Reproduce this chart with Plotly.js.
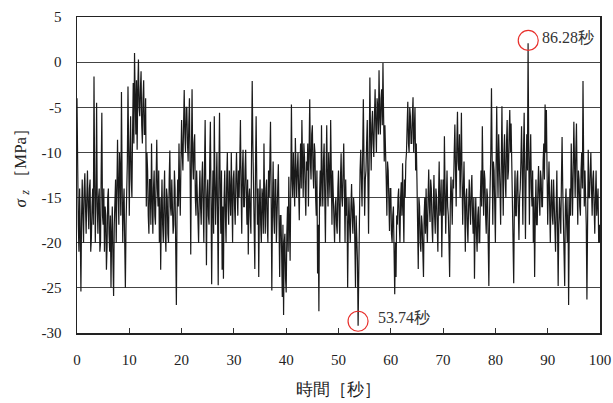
<!DOCTYPE html>
<html>
<head>
<meta charset="utf-8">
<script src="https://cdn.plot.ly/plotly-3.0.1.min.js"></script>
<style>
  html, body { margin: 0; padding: 0; background: #fff; }
  #chart { width: 613px; height: 403px; }
</style>
</head>
<body>
<div id="chart"></div>
<script>
// Stress history sampled every 0.125 s from 0 to 100 s [MPa]
const sampleStart = 0;
const sampleStep = 0.125;
const stress = [
  -4, -16, -18, -21, -14, -19, -25.4, -17,
  -13, -17, -20, -14, -12.3, -16, -19, -15,
  -12, -16, -18.5, -14, -13, -21, -19.5, -16,
  -14, -18, -1.6, -13, -20, -15, -4.5, -16,
  -19, -15, -14, -21, -20, -12, -5.6, -17,
  -18, -14, -21, -16, -17, -23, -20.5, -15,
  -14, -19, -21, -17, -25, -19, -16, -22,
  -25.9, -18, -15, -13, -20, -12, -8.6, -14,
  -18, -10, -12, -17, -3.3, -13, -20, -16,
  -14, -20, -25, -18, -15, -11, -2.7, -14,
  -17, -10, -6, -13, -15, -8, -2.3, -9,
  1, -4, -8, -2, -9.7, -3, 0.3, -5,
  -6, -3, -1, -7, -9, -4, -2, -8,
  -8, -4, -16, -10, -12, -17, -19, -13,
  -13, -18, -9, -15, -19, -14, -12, -17,
  -18, -13, -8.6, -14, -16, -12, -20, -15,
  -23, -17, -13, -18, -20, -15, -12, -19,
  -21, -14, -15, -19, -20, -13, -9.8, -16,
  -17, -13, -15, -19, -18, -12, -14, -19,
  -26.9, -17, -13, -16, -9, -14, -17, -11,
  -6.4, -10, -12, -7, -3.1, -8, -10, -5,
  -5, -9, -11, -7, -4, -12, -21.3, -10,
  -3, -11, -13, -9, -8, -15, -17, -12,
  -14, -17, -20, -15, -12, -16, -18, -13,
  -11, -16, -20, -12, -6.4, -14, -22.5, -15,
  -13, -17, -18, -11, -6.6, -15, -24.6, -16,
  -12, -19, -6, -13, -18, -14, -10, -17,
  -24.7, -13, -5.6, -14, -19, -12, -23, -16,
  -24, -15, -12, -17, -20, -13, -10, -16,
  -18, -12, -14, -17, -10, -15, -20, -13,
  -12, -16, -18, -13, -10, -14, -17, -12,
  -15, -11, -6.4, -14, -19, -12, -9.7, -16,
  -16, -12, -9.7, -15, -18, -13, -21.3, -15,
  -14, -17, -19, -10, -2.1, -9, -14, -18,
  -22.9, -12, -6, -13, -18, -14, -23.8, -16,
  -13, -18, -20, -14, -15, -19, -9, -16,
  -19, -14, -13, -18, -20, -12, -15, -11,
  -6.6, -15, -25.3, -16, -11, -17, -19, -13,
  -13, -20, -18, -14, -11.3, -18, -23.8, -17,
  -17, -21, -26, -18, -28, -20, -19, -24,
  -25.5, -19, -16, -21, -12.7, -18, -22, -14,
  -4.7, -13, -15, -10, -12, -16, -8.4, -13,
  -15, -12, -10, -14, -17.5, -12, -9, -14,
  -6.4, -11, -15, -9, -10.5, -14, -17, -11,
  -12, -9, -16, -10, -4.1, -11, -13, -8,
  -7, -12, -14, -9, -10, -15, -17, -12,
  -23.4, -18, -27.6, -15, -12, -16, -7, -13,
  -16, -11, -9, -15, -20, -12, -7, -13,
  -16, -10, -12, -15, -6.4, -13, -18, -12,
  -14, -17, -20, -16, -15, -18, -19, -14,
  -12, -17, -20, -13, -10.1, -15, -16, -12,
  -9, -14, -20, -13, -17, -15, -25, -18,
  -15, -18, -20, -16, -13.5, -17, -19, -15,
  -16, -20, -25, -17, -19, -22, -29.2, -21,
  -18, -12, -9.7, -14, -16, -10, -4.1, -11,
  -17, -13, -12, -9, -6.4, -13, -19, -10,
  -1.7, -8, -12, -7, -5.4, -9, -10.5, -6,
  -3, -7, -10, -4, -5, -8, -0.9, -6,
  -8, -4, -3, -7, -0.1, -6, -11, -7,
  -9, -13, -17, -11, -12, -15, -18.7, -14,
  -14, -19, -20, -17, -16, -21, -25.7, -20,
  -23.8, -17, -18, -15, -14, -18, -20, -15,
  -13.3, -17, -11.2, -16, -20, -13, -15, -11,
  -10, -7, -4.4, -9, -10, -5, -6, -9,
  -9, -6, -3.9, -10, -8.3, -5, -12, -9,
  -13, -18, -22.9, -15, -16, -20, -21, -17,
  -18, -21, -23.8, -17, -15, -19, -14, -18,
  -20, -15, -11.9, -16, -17.7, -13, -14, -18,
  -20, -16, -12.5, -17, -19, -14, -15, -18,
  -21, -15, -11, -17, -16, -13, -21.6, -16,
  -13, -17, -8.2, -14, -19, -15, -12, -16,
  -17, -20, -23.8, -16, -12.7, -15, -18, -13,
  -14, -10, -6.9, -12, -16, -9, -5.5, -11,
  -12, -8, -15, -11, -5.6, -13, -18, -14,
  -11, -16, -21, -15, -14, -18, -20, -16,
  -13, -16, -18, -14, -12.5, -17, -19, -15,
  -24, -18, -15, -19, -21, -17, -16, -20,
  -20, -15, -12, -16, -7.1, -13, -17, -12,
  -13, -17, -19, -14, -15, -20, -24.8, -17,
  -14, -10, -2.9, -13, -18, -11, -12, -16,
  -20, -12, -4.9, -11, -15, -8, -10, -14,
  -18, -11, -4.9, -12, -17, -10, -8, -13,
  -15, -9, -6.4, -13, -12, -8, -5.3, -10,
  -6.8, -11, -15, -18, -24.5, -16, -12, -17,
  -17, -13, -12, -16, -19.7, -15, -14, -11,
  -7.1, -12, -18, -10, -5.6, -13, -19.6, -12,
  -8, -12, 2.1, -10, -18, -11, -8, -14,
  -16, -12, -20, -15, -23.8, -17, -13, -18,
  -18, -14, -11.5, -15, -17, -12, -13, -16,
  -16, -11, -9, -13, -4.7, -10, -5.3, -12,
  -18, -14, -11, -16, -20, -15, -13, -17,
  -18, -13, -15, -19, -21, -16, -12, -18,
  -24.8, -18, -15, -17, -19, -13, -8.3, -14,
  -17, -20, -24.8, -16, -14, -18, -20, -15,
  -26.9, -18, -14, -17, -9, -13, -17, -12,
  -6.6, -11, -15, -10, -6.8, -13, -18, -12,
  -13, -16, -17, -12, -10, -14, -2.1, -11,
  -16, -12, -14, -18, -26.3, -14, -9.7, -15,
  -15, -12, -10, -14, -17, -13, -12, -16,
  -19, -15, -12, -17, -16, -14, -20, -18,
  -20
];

// Extreme values marked on the chart
const peakTimes = [53.74, 86.28];
const peakValues = [-28.7, 2.4];
const peakLabels = ['53.74秒', '86.28秒'];

// Axis ticks
const xTicks = [0, 10, 20, 30, 40, 50, 60, 70, 80, 90, 100];
const xTickLabels = ['0', '10', '20', '30', '40', '50', '60', '70', '80', '90', '100'];
const yTicks = [5, 0, -5, -10, -15, -20, -25, -30];
const yTickLabels = ['5', '0', '-5', '-10', '-15', '-20', '-25', '-30'];

const serif = "'Liberation Serif', 'DejaVu Serif', 'Times New Roman', serif";
const labelShift = [18, 12];

const traces = [
  {
    type: 'scatter',
    mode: 'lines',
    x0: sampleStart,
    dx: sampleStep,
    y: stress,
    line: { color: '#1a1a1a', width: 1.2 },
    hoverinfo: 'skip',
    showlegend: false
  },
  {
    type: 'scatter',
    mode: 'markers',
    x: peakTimes,
    y: peakValues,
    marker: { symbol: 'circle-open', size: 20, color: '#e8302c', line: { width: 1.2, color: '#e8302c' } },
    hoverinfo: 'skip',
    showlegend: false
  }
];

const annotations = peakTimes.map((t, i) => ({
  x: t,
  y: peakValues[i],
  xref: 'x',
  yref: 'y',
  text: peakLabels[i],
  showarrow: false,
  xanchor: 'left',
  yanchor: 'middle',
  xshift: labelShift[i],
  yshift: i === 0 ? 4 : 3,
  font: { family: serif, size: 16, color: '#333' }
}));

annotations.push({
  xref: 'paper', yref: 'paper',
  x: 0.5, y: -0.18,
  text: '時間［秒］',
  showarrow: false,
  xanchor: 'center', yanchor: 'middle',
  font: { family: serif, size: 17, color: '#222' }
});

annotations.push({
  xref: 'paper', yref: 'paper',
  x: -0.106, y: 0.535,
  text: '<i>σ</i> <i><sub>z</sub></i> ［MPa］',
  textangle: -90,
  showarrow: false,
  xanchor: 'center', yanchor: 'middle',
  font: { family: serif, size: 17, color: '#222' }
});

const layout = {
  width: 613,
  height: 403,
  margin: { l: 77, r: 13, t: 17, b: 70, pad: 0 },
  paper_bgcolor: '#ffffff',
  plot_bgcolor: '#ffffff',
  showlegend: false,
  font: { family: serif },
  xaxis: {
    range: [0, 100],
    tickmode: 'array',
    tickvals: xTicks,
    ticktext: xTickLabels,
    ticks: 'inside',
    ticklen: 5,
    tickwidth: 1,
    tickcolor: '#333',
    showgrid: false,
    zeroline: false,
    showline: true,
    mirror: true,
    linecolor: '#222',
    linewidth: 1.5,
    ticklabelstandoff: 12,
    tickfont: { family: serif, size: 15, color: '#222' }
  },
  yaxis: {
    range: [-30, 5],
    tickmode: 'array',
    tickvals: yTicks,
    ticktext: yTickLabels,
    ticks: '',
    showgrid: true,
    gridcolor: '#444',
    gridwidth: 1,
    zeroline: false,
    showline: true,
    mirror: true,
    linecolor: '#222',
    linewidth: 1.5,
    ticklabelstandoff: 11,
    tickfont: { family: serif, size: 15, color: '#222' }
  },
  annotations: annotations
};

Plotly.newPlot('chart', traces, layout, { staticPlot: true, displayModeBar: false });
</script>
</body>
</html>
